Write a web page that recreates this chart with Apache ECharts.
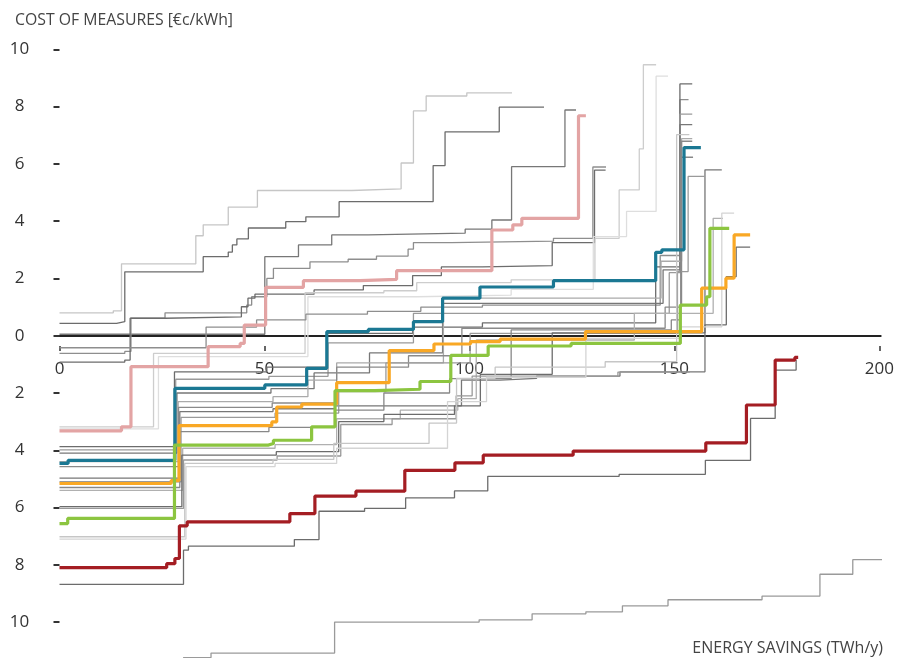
<!DOCTYPE html>
<html><head><meta charset="utf-8">
<script src="https://cdn.jsdelivr.net/npm/echarts/dist/echarts.min.js"></script>
<style>html,body{margin:0;padding:0;background:#fff}#c{width:897px;height:658px}</style>
</head><body><div id="c"></div>
<script>
// x ticks and y ticks
const xTicks = [0, 50, 100, 150, 200];
const yTicks = [-10, -8, -6, -4, -2, 0, 2, 4, 6, 8, 10];

// coloured curves: x = breakpoints (TWh/y), y = cost level of each step (€c/kWh)
const xPink = [0,15.1,17.4,36.2,44.0,45.0,50.2,59.4,73.2,82.1,105.3,110.4,112.6,126.4,128.2];
const yPink = [-3.32,-3.18,-1.08,-0.38,-0.27,0.37,1.69,1.92,1.97,2.27,3.69,3.87,4.10,7.68];
const xBlue = [0,2.1,28.1,50.0,60.2,65.1,75.2,86.2,93.3,102.4,120.3,145.2,146.7,152.1,156.2];
const yBlue = [-4.46,-4.35,-1.84,-1.72,-1.14,0.14,0.22,0.49,1.31,1.70,1.92,2.91,3.0,6.57];
const xOrange = [0,27.2,29.1,51.7,52.9,59.0,67.5,80.3,91.2,100.1,107.3,128.1,156.4,162.3,164.3,168.2];
const yOrange = [-5.16,-5.06,-3.14,-3.01,-2.49,-2.39,-1.64,-0.52,-0.29,-0.21,-0.12,0.14,1.66,2.01,3.52];
const xGreen = [0,2.0,28.0,50.9,52.1,61.4,67.1,76.8,87.8,95.3,104.4,124.6,151.2,157.6,158.4,163.1];
const yGreen = [-6.56,-6.38,-3.82,-3.76,-3.65,-3.18,-1.92,-1.87,-1.60,-0.69,-0.36,-0.27,1.07,1.36,3.75];
const xRed = [0,26.1,28.1,29.2,31.1,56.1,62.2,72.2,84.1,96.3,103.2,125.1,157.4,167.3,174.3,179.1,179.9];
const yRed = [-8.10,-7.96,-7.78,-6.64,-6.50,-6.21,-5.60,-5.43,-4.70,-4.44,-4.17,-4.03,-3.74,-2.42,-0.85,-0.76];

// grey curves
const xG1 = [0,13.1,15.1,33.2,35.0,41.1,48.2,71.2,83.2,86.2,89.3,99.2,110.2];
const yG1 = [0.80,0.87,2.51,3.49,3.87,4.49,5.07,5.13,6.03,7.85,8.37,8.48];
const xG2 = [0,13.9,15.9,35.0,41.1,42.1,43.2,46.0,55.1,60.0,68.1,91.0,93.9,107.1,118.0];
const yG2 = [0.43,0.49,2.23,2.76,2.92,3.17,3.38,3.76,3.98,4.15,4.68,5.94,7.12,7.98];
const xG3 = [0,50.0,58.2,66.3,75.2,98.8,105.3,110.1,123.1,125.8];
const yG3 = [0.05,2.76,3.17,3.52,3.58,3.72,4.04,5.90,7.88];
const xG4 = [0,15.9,17.4,25.7,45.6,46.8,50.5,52.1,61.0,70.3,77.2,84.9,86.2,95.5,120.3,129.9,133.1];
const yG4 = [-0.62,-0.55,0.61,0.80,1.07,1.36,2.0,2.35,2.58,2.67,2.78,3.02,3.25,3.30,3.40,5.89];
const xG5 = [0,15.9,17.2,25.7,44.3,45.9,47.6,62,74,86,93,103,120,130.3,133.0];
const yG5 = [-0.92,-0.85,0.61,0.66,1.01,1.31,1.45,1.6,1.75,2.1,2.4,2.45,3.25,5.78];
const xG6 = [0,22.9,59.8,79,87,110,130.4,136.3,141.2,142.2,145.3];
const yG6 = [-3.18,-0.62,1.50,1.57,1.85,1.95,3.40,5.09,6.52,9.46];
const xG7 = [0,24.1,60.5,87,110,130,138.1,145.3,148.2];
const yG7 = [-3.25,-0.73,1.36,1.42,1.62,3.46,4.34,9.06];
const xG8 = [0,35.7,48,60,75,88,103,146.3,151.1,153.2];
const yG8 = [-0.42,0.30,0.55,0.75,0.85,1.0,1.07,2.8,8.24];
const xL1 = [0,28.0,50.5,65.2,86,103,145.2,151.1,154.1];
const yL1 = [-3.87,-1.26,-1.10,0.08,0.30,0.45,2.4,8.79];
const xL2 = [0,28.3,51,65.4,86.2,148.5,151.1,154.1];
const yL2 = [-3.99,-1.52,-1.42,-0.25,0.78,2.2,7.74];
const xL3 = [0,28.6,51.5,62,75.5,93.3,147,151.1,154.1];
const yL3 = [-4.10,-2.0,-1.85,-1.3,-0.6,1.13,2.3,7.37];
const xL4 = [0,28.9,52,60.5,67.5,93.5,146.5,151.5,154.1];
const yL4 = [-4.40,-2.30,-2.13,-1.55,-0.95,1.31,2.6,6.88];
const xL5 = [0,29.0,51.8,67.5,85,98,147.5,151.5,154.1];
const yL5 = [-4.57,-2.50,-2.35,-1.10,-0.7,0.26,1.0,6.79];
const xL6 = [0,29.3,52,67,97.9,107.3,116.2,136.5,157.2,161.3];
const yL6 = [-4.97,-2.65,-2.55,-2.45,-1.55,-1.49,-1.41,-1.26,5.79];
const xL7 = [0,29.6,52.5,68,79.5,100,150.5,153.1,157.2];
const yL7 = [-5.10,-2.85,-2.70,-1.95,-0.95,0.08,2.24,5.56];
const xL8 = [0,29.3,51,67,79,95,110,149,151.3,154.3];
const yL8 = [-5.30,-3.35,-3.20,-2.60,-2.0,-1.5,0.20,0.55,6.23];
const xL9 = [0,30,52.5,67.5,83,97,101.5,140,159.2,161.6];
const yL9 = [-5.40,-3.93,-3.80,-2.90,-2.6,-2.2,-0.15,0.78,4.1];
const xL10 = [0,29.8,52.8,68,79,96.2,102.5,120,157.2,162.4,164.8,168.2];
const yL10 = [-5.97,-4.17,-4.05,-3.0,-2.75,-2.45,-1.35,0.10,0.38,2.06,3.09];
const xL11 = [0,30.2,53,68.5,81,96.6,100.5,136,153.5];
const yL11 = [-6.03,-4.34,-4.20,-3.10,-2.9,-2.1,-1.41,-1.27];
const xL12 = [0,30.5,52,66.8,90,96.7,106.1,132.9,150.3,153.4];
const yL12 = [-7.02,-4.46,-4.32,-3.76,-3.05,-1.49,-1.10,-0.91,7.02];
const xL13 = [0,30.8,52.5,67.5,94.5,104,128.2,151.3,161.3,164.3];
const yL13 = [-7.10,-4.57,-4.46,-3.93,-2.30,-1.45,-0.09,0.31,4.28];
const xDark = [0,30.2,31.4,57.2,63.2,74.3,84.3,96.2,104.3,136.3,157.3,168.3,174.3,179.4,179.4];
const yDark = [-8.68,-7.49,-7.35,-7.12,-6.13,-6.03,-5.66,-5.42,-4.91,-4.84,-4.35,-2.89,-1.20,-0.85];
const xBottom = [30.1,36.9,67.0,102.2,115.1,128.2,137.1,148.2,171.1,185.2,193.2,202.3];
const yBottom = [-11.24,-11.08,-10.0,-9.92,-9.71,-9.64,-9.43,-9.22,-9.09,-8.33,-7.82];

function steps(xs, ys) {
  const d = [];
  for (let i = 0; i < ys.length; i++) d.push([xs[i], ys[i]]);
  d.push([xs[xs.length - 1], ys[ys.length - 1]]);
  return d;
}

const greys = [
  [xG1, yG1, '#c6c6c6'], [xG2, yG2, '#6c6c6c'], [xG3, yG3, '#777777'], [xG4, yG4, '#8e8e8e'],
  [xG5, yG5, '#6c6c6c'], [xG6, yG6, '#cdcdcd'], [xG7, yG7, '#dedede'], [xG8, yG8, '#8e8e8e'],
  [xL1, yL1, '#6c6c6c'], [xL2, yL2, '#9a9a9a'], [xL3, yL3, '#777777'], [xL4, yL4, '#aaaaaa'],
  [xL5, yL5, '#8a8a8a'], [xL6, yL6, '#777777'], [xL7, yL7, '#9a9a9a'], [xL8, yL8, '#888888'],
  [xL9, yL9, '#b0b0b0'], [xL10, yL10, '#6c6c6c'], [xL11, yL11, '#999999'], [xL12, yL12, '#c6c6c6'],
  [xL13, yL13, '#d4d4d4'], [xDark, yDark, '#6c6c6c'], [xBottom, yBottom, '#9a9a9a']
];
const colours = [
  [xPink, yPink, '#e3a4a4'], [xBlue, yBlue, '#1b7893'], [xOrange, yOrange, '#f9a825'],
  [xGreen, yGreen, '#8cc540'], [xRed, yRed, '#a41d23']
];

const series = [];
greys.forEach(g => series.push({
  type: 'line', step: 'end', symbol: 'none', clip: false, silent: true,
  data: steps(g[0], g[1]), lineStyle: { color: g[2], width: 1.3 }, z: 2
}));
colours.forEach(c => series.push({
  type: 'line', step: 'end', symbol: 'none', clip: false, silent: true,
  data: steps(c[0], c[1]), lineStyle: { color: c[2], width: 3.2 }, z: 3
}));
// empty series for the tick grid
series.push({ type: 'line', xAxisIndex: 1, yAxisIndex: 1, data: [], symbol: 'none' });

const font = 'Open Sans';
const chart = echarts.init(document.getElementById('c'), null, { renderer: 'canvas' });
chart.setOption({
  animation: false,
  backgroundColor: '#fff',
  title: [
    { text: 'COST OF MEASURES [€c/kWh]', left: 10, top: 7,
      textStyle: { fontFamily: font, fontSize: 15.8, fontWeight: 'normal', color: '#444' } },
    { text: 'ENERGY SAVINGS (TWh/y)', right: 9, top: 635,
      textStyle: { fontFamily: font, fontSize: 16, fontWeight: 'normal', color: '#444' } }
  ],
  grid: [
    { left: 59.5, right: 16.3, top: 49.3, bottom: 35.9 },
    { left: 59.5, right: 16.3, top: 340, height: 6 }
  ],
  xAxis: [
    { type: 'value', gridIndex: 0, min: xTicks[0], max: xTicks[xTicks.length - 1], interval: 50,
      axisLine: { show: true, onZero: true, lineStyle: { color: '#222', width: 2 } },
      axisTick: { show: false }, axisLabel: { show: false }, splitLine: { show: false } },
    { type: 'value', gridIndex: 1, position: 'bottom', min: xTicks[0], max: xTicks[xTicks.length - 1], interval: 50,
      axisLine: { show: false },
      axisTick: { show: true, length: 5, lineStyle: { color: '#333', width: 1.5 } },
      axisLabel: { show: true, margin: 15, fontFamily: font, fontSize: 17, color: '#333' },
      splitLine: { show: false } }
  ],
  yAxis: [
    { type: 'value', gridIndex: 0, min: yTicks[0], max: yTicks[yTicks.length - 1], interval: 2, offset: 9,
      axisLine: { show: false },
      axisTick: { show: true, length: 6, lineStyle: { color: '#333', width: 2 } },
      axisLabel: { show: true, margin: 31, align: 'center', fontFamily: font, fontSize: 17, color: '#333',
        formatter: v => String(Math.abs(v)) },
      splitLine: { show: false } },
    { type: 'value', gridIndex: 1, min: 0, max: 1, show: false }
  ],
  series: series
});
</script></body></html>
